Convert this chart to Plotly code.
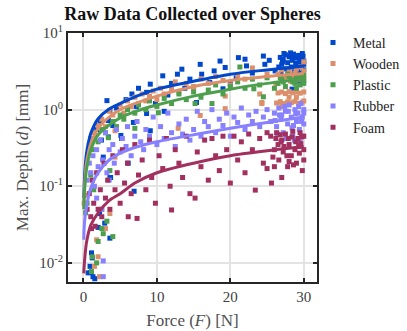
import plotly.graph_objects as go

# ---------------- data ----------------
materials = ["Metal", "Wooden", "Plastic", "Rubber", "Foam"]
colors = ["#0047cc", "#dc8f6b", "#4d9e4d", "#8780ff", "#a2305f"]

metal_F = [3.2, 3.6, 6.6, 8.6, 9.1, 10.8, 12.0, 13.4, 14.5, 15.9, 16.1, 17.2, 18.6, 19.3, 21.1, 22.0, 22.2, 24.5, 24.7, 26.1,
           15.4, 9.8, 8.6, 6.8, 9.1, 5.2, 3.4, 19.0, 20.0, 28.4,
           2.45, 3.4, 2.7, 3.6, 6.1, 5.1, 6.9, 3.7,
           2.2, 2.9, 2.0, 3.6, 1.1, 1.2, 1.3, 0.64, 1.55, 0.9, 1.0,
           4.5, 5.8, 7.5, 11.5, 12.8, 13.8, 17.8, 20.8, 23.0, 25.3, 11.0, 1.8, 2.3, 4.0, 7.2,
           26.8, 27.0, 27.2, 27.5, 27.6, 27.8, 28.0, 28.1, 28.3, 28.4, 28.6, 28.7, 28.9, 29.0, 29.1, 29.2, 29.3, 29.4,
           29.5, 29.6, 29.7, 29.8, 29.9, 30.0, 30.0, 29.5, 28.8, 27.4, 29.9, 28.2,
           26.6, 27.1, 27.9, 28.5, 29.0, 29.3, 29.7, 30.0, 29.6, 28.9, 27.3, 26.9]
metal_d = [1.31, 0.97, 1.6, 1.68, 2.15, 2.76, 2.2, 3.37, 2.5, 3.9, 2.9, 2.26, 4.3, 3.55, 4.77, 4.55, 3.72, 5.0, 3.9, 3.2,
           1.24, 1.2, 0.89, 0.68, 0.53, 0.42, 0.72, 1.87, 2.17, 1.85,
           0.40, 0.44, 0.24, 0.13, 0.2, 0.46, 0.086, 0.13,
           0.044, 0.033, 0.029, 0.021, 0.0135, 0.0116, 0.0066, 0.0074, 0.0062, 0.009, 0.0075,
           1.05, 1.35, 1.9, 1.55, 2.9, 1.9, 3.2, 2.6, 3.0, 4.4, 0.95, 0.55, 0.7, 0.62, 1.1,
           4.8, 3.9, 4.5, 5.2, 3.4, 4.1, 4.9, 2.8, 3.6, 4.4, 5.3, 3.1, 4.0, 4.7, 2.5, 3.4, 5.1, 4.2,
           3.0, 4.6, 3.7, 5.4, 2.7, 4.3, 3.3, 2.2, 2.3, 2.6, 5.0, 5.5,
           3.6, 4.2, 3.3, 4.7, 3.8, 2.9, 4.9, 3.9, 2.6, 5.0, 5.4, 2.9]

wooden_F = [1.0, 1.5, 2.0, 2.5, 3.0, 3.5, 4.0, 4.3, 4.3, 5.0, 5.5, 6.0, 6.5, 7.0, 7.5, 8.0, 8.5, 9.0, 9.5, 10.0,
            10.5, 11.0, 12.0, 12.5, 13.0, 14.0, 15.0, 16.0, 17.0, 18.0, 19.0, 20.0, 21.0, 22.0, 23.0, 24.0, 24.3, 25.0,
            19.3, 24.3, 19.3, 15.0, 12.9, 15.9,
            3.6, 2.0, 2.2, 1.5, 0.19, 0.1, 2.5, 3.0, 1.8,
            26.5, 27.0, 27.5, 28.0, 28.5, 29.0, 29.5, 30.0,
            26.3, 26.8, 27.3, 27.8, 28.3, 28.8, 29.3, 29.8, 30.0,
            26.5, 27.0, 27.5, 28.0, 28.5, 29.0, 29.5, 30.0, 29.8, 28.8,
            26.2, 27.2, 28.2, 29.2, 30.0, 29.6, 30.0, 28.0, 29.0, 27.0]
wooden_d = [0.42, 0.5, 0.62, 0.75, 0.6, 0.95, 0.85, 0.53, 0.24, 1.15, 0.9, 1.3, 1.1, 1.45, 1.2, 1.6, 1.3, 1.5, 1.75, 1.35,
            1.9, 1.6, 1.85, 2.3, 1.7, 2.2, 1.9, 2.5, 2.2, 2.7, 2.4, 2.1, 2.8, 2.5, 3.5, 1.6, 1.24, 2.9,
            1.03, 1.2, 1.5, 2.0, 0.57, 0.84,
            0.044, 0.012, 0.0066, 0.009, 0.076, 0.06, 0.05, 0.028, 0.02,
            1.65, 1.7, 1.62, 1.72, 1.66, 1.7, 1.64, 1.7,
            1.22, 1.27, 1.2, 1.26, 1.23, 1.28, 1.21, 1.25, 1.3,
            2.9, 3.3, 2.6, 3.1, 2.7, 3.4, 2.8, 3.2, 2.5, 3.0,
            2.2, 2.45, 2.35, 2.5, 2.6, 3.6, 4.2, 1.45, 1.45, 1.1]

plastic_F = [0.8, 1.2, 1.5, 2.0, 2.5, 3.0, 3.6, 4.0, 4.5, 5.0, 5.5, 6.0, 7.0, 7.5, 8.5, 9.0, 10.0, 11.0, 12.0, 13.0,
             14.0, 15.0, 16.0, 17.0, 18.0, 19.0, 20.0, 21.0, 22.0, 23.0, 24.0, 25.0,
             21.3, 24.5, 17.5, 23.2, 15.2, 10.2, 7.0, 3.4,
             2.0, 4.0, 2.7, 1.1, 1.8, 0.5, 0.3, 1.2, 2.5, 3.2, 1.0, 1.4,
             26.5, 27.0, 27.5, 28.0, 28.5, 29.0, 29.5, 30.0, 29.0, 27.8, 28.8, 30.0,
             26.0, 27.2, 28.3, 29.3, 30.0, 29.7, 26.8]
plastic_d = [0.35, 0.3, 0.42, 0.38, 0.55, 0.5, 0.16, 0.7, 0.6, 0.85, 0.75, 1.0, 0.9, 1.15, 1.0, 1.3, 1.1, 1.4, 1.2, 1.6,
             1.35, 1.7, 1.45, 1.8, 2.1, 1.6, 2.0, 2.3, 1.9, 2.5, 2.1, 2.6,
             3.6, 1.47, 1.2, 1.87, 1.2, 0.91, 0.57, 0.43,
             0.019, 0.022, 0.024, 0.0077, 0.01, 0.06, 0.045, 0.012, 0.028, 0.035, 0.14, 0.09,
             2.2, 2.5, 2.0, 2.7, 2.3, 2.6, 2.1, 2.4, 1.9, 2.9, 2.2, 2.8,
             1.9, 2.3, 2.45, 2.55, 2.2, 2.65, 2.6]

rubber_F = [0.5, 0.8, 1.0, 1.3, 1.5, 1.8, 2.0, 2.3, 2.6, 3.0, 3.2, 3.5, 4.0, 4.2, 4.5, 5.0, 5.3, 5.8, 6.0, 6.5,
            7.0, 7.3, 7.8, 8.2, 8.5, 9.0, 9.5, 10.0, 10.5, 11.0, 11.5, 12.0, 12.5, 13.0, 13.5, 14.0, 14.5, 15.0,
            15.5, 16.0, 16.5, 17.0, 17.5, 18.0, 18.5, 19.0, 19.5, 20.0, 20.5, 21.0, 21.5, 22.0, 22.5, 23.0, 23.5,
            24.0, 24.5, 25.0, 25.5,
            2.7, 2.7, 2.5, 1.8, 3.5,
            26.0, 26.3, 26.6, 26.9, 27.2, 27.5, 27.8, 28.0, 28.3, 28.5, 28.8, 29.0, 29.2, 29.4, 29.6, 29.8, 30.0,
            30.0, 29.5, 28.6, 27.0, 29.9,
            26.1, 26.7, 27.4, 27.9, 28.4, 28.9, 29.3, 29.7, 30.0, 26.4, 27.6, 28.7]
rubber_d = [0.12, 0.2, 0.15, 0.25, 0.1, 0.3, 0.18, 0.4, 0.22, 0.5, 0.15, 0.3, 0.35, 0.2, 0.55, 0.28, 0.42, 0.33, 0.6, 0.25,
            0.45, 0.7, 0.38, 0.3, 0.55, 0.45, 0.8, 0.35, 0.6, 0.42, 0.9, 0.5, 0.33, 0.65, 0.48, 0.75, 0.4, 0.55,
            0.95, 0.45, 0.7, 0.6, 1.0, 0.5, 0.75, 0.62, 0.9, 0.45, 0.8, 0.68, 1.05, 0.55, 0.85, 0.7, 0.95,
            0.6, 0.8, 1.0, 0.7,
            0.0106, 0.0066, 0.05, 0.07, 0.12,
            0.9, 0.6, 1.05, 0.75, 0.5, 0.95, 0.65, 1.15, 0.8, 0.45, 1.0, 0.7, 0.9, 0.55, 1.2, 0.8, 0.65,
            1.0, 0.38, 0.62, 0.85, 0.45,
            0.72, 0.85, 1.1, 0.95, 0.58, 0.88, 1.1, 0.7, 0.9, 0.48, 0.42, 0.4]

foam_F = [0.5, 0.8, 1.0, 1.2, 1.4, 1.6, 1.8, 2.0, 2.3, 2.5, 2.8, 3.0, 3.3, 3.6, 4.0, 4.3, 4.6, 5.0, 5.3, 5.6,
          6.0, 6.1, 6.5, 7.0, 7.3, 7.5, 8.0, 8.5, 9.0, 9.3, 9.8, 10.3, 10.8, 11.3, 11.8, 12.0, 12.5, 13.0, 13.5,
          14.0, 14.5, 15.2, 15.5, 16.0, 16.5, 17.0, 17.5, 18.0, 18.5, 19.0, 19.5, 20.0, 20.5, 21.0, 21.5, 22.0,
          22.5, 23.0, 23.4, 24.0, 24.5, 25.0, 25.6, 27.0, 1.1,
          25.5, 26.0, 26.3, 26.6, 26.9, 27.2, 27.5, 27.8, 28.0, 28.3, 28.5, 28.8, 29.0, 29.2, 29.4, 29.6, 29.8,
          30.0, 30.0, 27.0, 28.0, 29.5, 26.5, 27.7, 25.0,
          25.8, 26.2, 26.8, 27.3, 27.9, 28.4, 28.9, 29.3, 29.7, 30.0, 26.0, 28.6]
foam_d = [0.05, 0.08, 0.04, 0.12, 0.06, 0.03, 0.15, 0.05, 0.09, 0.04, 0.2, 0.07, 0.12, 0.05, 0.25, 0.09, 0.15, 0.06, 0.3, 0.11,
          0.2, 0.04, 0.08, 0.35, 0.038, 0.14, 0.22, 0.09, 0.4, 0.13, 0.06, 0.25, 0.17, 0.42, 0.1, 0.049, 0.3, 0.2, 0.13,
          0.45, 0.08, 0.07, 0.28, 0.18, 0.4, 0.12, 0.42, 0.25, 0.16, 0.45, 0.3, 0.11, 0.45, 0.22, 0.38, 0.15,
          0.48, 0.3, 0.089, 0.42, 0.2, 0.5, 0.11, 0.13, 0.028,
          0.45, 0.3, 0.5, 0.22, 0.38, 0.28, 0.48, 0.18, 0.35, 0.25, 0.52, 0.3, 0.2, 0.42, 0.27, 0.36, 0.16,
          0.3, 0.45, 0.4, 0.21, 0.5, 0.35, 0.25, 0.17,
          0.24, 0.42, 0.47, 0.33, 0.42, 0.44, 0.38, 0.33, 0.44, 0.22, 0.18, 0.19]

# fitted curves
fit_F = [0.05, 0.1, 0.2, 0.4, 0.7, 1.0, 2.0, 3.5, 5.0, 7.0, 10.0, 15.0, 20.0, 25.0, 30.0]
fit_metal = [0.07, 0.1, 0.16, 0.26, 0.38, 0.49, 0.76, 1.02, 1.2, 1.47, 1.85, 2.35, 2.9, 3.3, 3.7]
fit_wooden = [0.055, 0.08, 0.12, 0.2, 0.28, 0.36, 0.57, 0.8, 1.0, 1.2, 1.5, 2.0, 2.4, 2.7, 2.95]
fit_plastic = [0.05, 0.07, 0.1, 0.16, 0.23, 0.3, 0.47, 0.63, 0.78, 0.94, 1.15, 1.5, 1.85, 2.2, 2.5]
fit_rubber = [0.02, 0.028, 0.038, 0.052, 0.075, 0.095, 0.15, 0.22, 0.27, 0.32, 0.38, 0.47, 0.57, 0.68, 0.8]
fit_foam = [0.0073, 0.009, 0.012, 0.018, 0.025, 0.031, 0.045, 0.065, 0.08, 0.11, 0.15, 0.2, 0.25, 0.29, 0.33]

scatter_F = [metal_F, wooden_F, plastic_F, rubber_F, foam_F]
scatter_d = [metal_d, wooden_d, plastic_d, rubber_d, foam_d]
fits = [fit_metal, fit_wooden, fit_plastic, fit_rubber, fit_foam]

x_ticks = [0, 10, 20, 30]
y_ticks = [0.01, 0.1, 1, 10]
y_ticktext = ["10<sup>-2</sup>", "10<sup>-1</sup>", "10<sup>0</sup>", "10<sup>1</sup>"]

# ---------------- figure ----------------
FONT = "Liberation Serif"
fig = go.Figure()

for name, col, fx, fy in zip(materials, colors, scatter_F, scatter_d):
    fig.add_trace(go.Scatter(x=fx, y=fy, mode="markers", name=name,
                             marker=dict(symbol="square", size=5, color=col, line=dict(width=0))))

for name, col, fy in zip(materials, colors, fits):
    fig.add_trace(go.Scatter(x=fit_F, y=fy, mode="lines", showlegend=False,
                             line=dict(color=col, width=3, shape="spline", smoothing=0.8)))

axis_common = dict(showline=True, linewidth=2, linecolor="#262626", mirror="allticks",
                   ticks="inside", ticklen=4, tickwidth=2, tickcolor="#262626",
                   showgrid=True, gridcolor="#e3e3e3", gridwidth=1.5, zeroline=False,
                   tickfont=dict(family=FONT, size=15, color="#404040"))

fig.update_layout(
    width=407, height=331,
    margin=dict(l=68, r=90, t=33, b=49, autoexpand=False),
    paper_bgcolor="white", plot_bgcolor="white",
    title=dict(text="<b>Raw Data Collected over Spheres</b>", x=0.5, xref="paper", xanchor="center",
               y=1 - 14 / 331, yref="container", yanchor="middle",
               font=dict(family=FONT, size=18, color="#111111")),
    xaxis=dict(range=[-2.1, 31.8], tickvals=x_ticks,
               title=dict(text="Force (<i>F</i>) [N]", font=dict(family=FONT, size=17, color="#505050"), standoff=10),
               **axis_common),
    yaxis=dict(type="log", range=[-2.25, 1.0], tickvals=y_ticks, ticktext=y_ticktext,
               title=dict(text="Max. Depth (<i>d</i>) [mm]", font=dict(family=FONT, size=17, color="#505050"), standoff=6),
               **axis_common),
    legend=dict(x=0.984, xanchor="left", y=1.025, yanchor="top", bgcolor="rgba(0,0,0,0)",
                font=dict(family=FONT, size=14, color="#222222"), itemwidth=30),
    showlegend=True,
)

fig.write_html("out.html")
